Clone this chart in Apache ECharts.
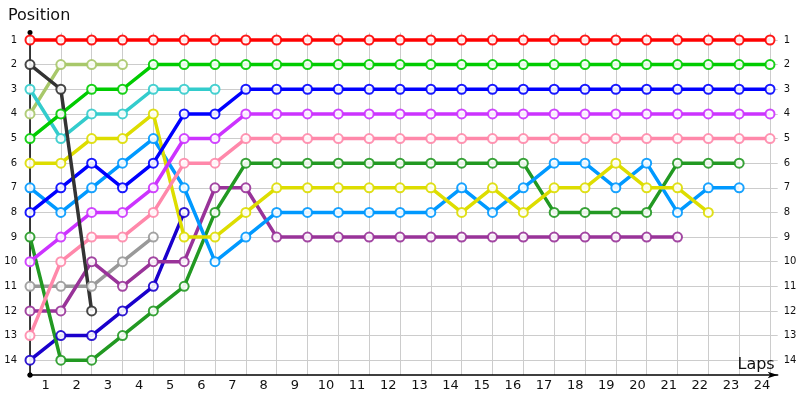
<!DOCTYPE html>
<html>
<head>
<meta charset="utf-8">
<script src="https://cdn.jsdelivr.net/npm/echarts@6/dist/echarts.min.js"></script>
<style>
  html, body { margin: 0; padding: 0; background: #fff; }
  #grafico { width: 800px; height: 400px; }
</style>
</head>
<body>
<div id="grafico"></div>
<script>
// laps 0..24 (0 = start grid), labels 1..24 sit between the grid lines
const laps = [0, 1, 2, 3, 4, 5, 6, 7, 8, 9, 10, 11, 12, 13, 14, 15, 16, 17, 18, 19, 20, 21, 22, 23, 24];
const lapLabels = ["1", "2", "3", "4", "5", "6", "7", "8", "9", "10", "11", "12", "13", "14", "15", "16", "17", "18", "19", "20", "21", "22", "23", "24"];
const posTicks = [1, 2, 3, 4, 5, 6, 7, 8, 9, 10, 11, 12, 13, 14];

// position of each car per lap (stops when the car retired)
const rojo      = [1, 1, 1, 1, 1, 1, 1, 1, 1, 1, 1, 1, 1, 1, 1, 1, 1, 1, 1, 1, 1, 1, 1, 1, 1];
const grisOsc   = [2, 3, 12];
const oliva     = [4, 2, 2, 2];
const verde     = [5, 4, 3, 3, 2, 2, 2, 2, 2, 2, 2, 2, 2, 2, 2, 2, 2, 2, 2, 2, 2, 2, 2, 2, 2];
const cian      = [3, 5, 4, 4, 3, 3, 3];
const amarillo  = [6, 6, 5, 5, 4, 9, 9, 8, 7, 7, 7, 7, 7, 7, 8, 7, 8, 7, 7, 6, 7, 7, 8];
const celeste   = [7, 8, 7, 6, 5, 7, 10, 9, 8, 8, 8, 8, 8, 8, 7, 8, 7, 6, 6, 7, 6, 8, 7, 7];
const verdeOsc  = [9, 14, 14, 13, 12, 11, 8, 6, 6, 6, 6, 6, 6, 6, 6, 6, 6, 8, 8, 8, 8, 6, 6, 6];
const azul      = [8, 7, 6, 7, 6, 4, 4, 3, 3, 3, 3, 3, 3, 3, 3, 3, 3, 3, 3, 3, 3, 3, 3, 3, 3];
const violeta   = [10, 9, 8, 8, 7, 5, 5, 4, 4, 4, 4, 4, 4, 4, 4, 4, 4, 4, 4, 4, 4, 4, 4, 4, 4];
const rosa      = [13, 10, 9, 9, 8, 6, 6, 5, 5, 5, 5, 5, 5, 5, 5, 5, 5, 5, 5, 5, 5, 5, 5, 5, 5];
const gris      = [11, 11, 11, 10, 9];
const purpura   = [12, 12, 10, 11, 10, 10, 7, 7, 9, 9, 9, 9, 9, 9, 9, 9, 9, 9, 9, 9, 9, 9];
const azulOsc   = [14, 13, 13, 12, 11, 8];

const pilotos = [
  { datos: gris, color: "#999999" },
  { datos: oliva, color: "#a8c86a" },
  { datos: cian, color: "#33cccc" },
  { datos: azulOsc, color: "#1a00cc" },
  { datos: purpura, color: "#993399" },
  { datos: verdeOsc, color: "#229922" },
  { datos: celeste, color: "#0099ff" },
  { datos: amarillo, color: "#dddd00" },
  { datos: rosa, color: "#ff88aa" },
  { datos: violeta, color: "#cc33ff" },
  { datos: azul, color: "#0000ff" },
  { datos: verde, color: "#00cc00" },
  { datos: rojo, color: "#ff0000" },
  { datos: grisOsc, color: "#333333" }
];

const fuente = "DejaVu Sans";

const series = pilotos.map(p => ({
  type: "line",
  xAxisIndex: 0,
  yAxisIndex: 0,
  data: p.datos.map((v, i) => [laps[i], v]),
  symbol: "emptyCircle",
  symbolSize: 9,
  showAllSymbol: true,
  lineStyle: { color: p.color, width: 3.5 },
  itemStyle: { color: p.color, borderColor: p.color, borderWidth: 1.1, opacity: 0.9 },
  emphasis: { disabled: true },
  animation: false
}));

const grafico = echarts.init(document.getElementById("grafico"));

grafico.setOption({
  animation: false,
  title: {
    text: "Position",
    left: 3,
    top: 3,
    textStyle: { fontFamily: fuente, fontSize: 16, fontWeight: "normal", color: "#111" }
  },
  grid: { left: 30, right: 22.3, top: 32.6, bottom: 25 },
  xAxis: [
    {
      type: "value",
      min: 0,
      max: 24.25,
      name: "Laps",
      nameLocation: "end",
      nameGap: -3,
      nameTextStyle: {
        fontFamily: fuente, fontSize: 16, color: "#111",
        align: "right", verticalAlign: "bottom", padding: [0, 0, 2, 0]
      },
      axisLine: {
        lineStyle: { color: "#000", width: 1.5 },
        symbol: ["circle", "arrow"],
        symbolSize: [5, 10]
      },
      axisTick: { show: false, customValues: laps },
      axisLabel: { show: false, customValues: laps },
      splitLine: { show: true, lineStyle: { color: "#cccccc", width: 1 } }
    },
    {
      type: "category",
      data: lapLabels,
      boundaryGap: true,
      position: "bottom",
      axisLine: { show: false },
      axisTick: { show: false },
      axisLabel: { fontFamily: fuente, fontSize: 13, color: "#111", margin: 4 },
      splitLine: { show: false }
    }
  ],
  yAxis: [
    {
      type: "value",
      inverse: true,
      min: 0.7,
      max: 14.6,
      axisLine: {
        lineStyle: { color: "#000", width: 1.5 },
        symbol: ["circle", "circle"],
        symbolSize: [5, 5]
      },
      axisTick: { show: false, customValues: posTicks },
      axisLabel: { customValues: posTicks, fontFamily: fuente, fontSize: 10, color: "#111", margin: 13 },
      splitLine: { show: true, lineStyle: { color: "#cccccc", width: 1 } }
    },
    {
      type: "value",
      inverse: true,
      min: 0.7,
      max: 14.6,
      position: "right",
      axisLine: { show: false },
      axisTick: { show: false, customValues: posTicks },
      axisLabel: { customValues: posTicks, fontFamily: fuente, fontSize: 10, color: "#111", margin: 6 },
      splitLine: { show: false }
    }
  ],
  series: series
});
</script>
</body>
</html>
